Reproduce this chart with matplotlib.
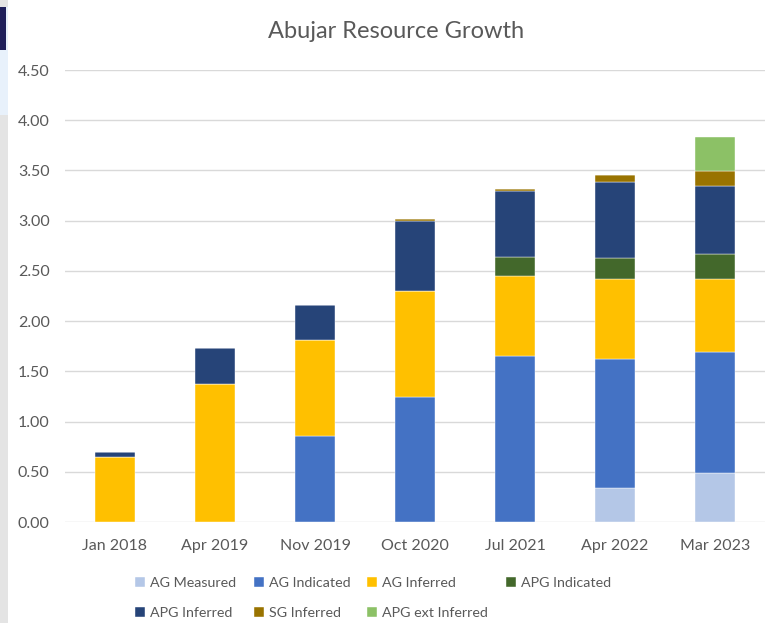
import numpy as np
import matplotlib
matplotlib.use('Agg')
import matplotlib.pyplot as plt
from matplotlib.patches import Rectangle

plt.rcParams['font.family'] = ['Lato', 'DejaVu Sans']

dates = ['Jan 2018', 'Apr 2019', 'Nov 2019', 'Oct 2020', 'Jul 2021', 'Apr 2022', 'Mar 2023']

ag_measured = [0.00, 0.00, 0.00, 0.00, 0.00, 0.34, 0.49]
ag_indicated = [0.00, 0.00, 0.86, 1.24, 1.65, 1.28, 1.20]
ag_inferred = [0.65, 1.37, 0.95, 1.06, 0.80, 0.80, 0.73]
apg_indicated = [0.00, 0.00, 0.00, 0.00, 0.19, 0.21, 0.25]
apg_inferred = [0.05, 0.36, 0.35, 0.70, 0.66, 0.75, 0.68]
sg_inferred = [0.00, 0.00, 0.00, 0.02, 0.02, 0.07, 0.14]
apg_ext_inferred = [0.00, 0.00, 0.00, 0.00, 0.00, 0.00, 0.34]

series = [
    ('AG Measured', ag_measured, '#B4C7E7'),
    ('AG Indicated', ag_indicated, '#4472C4'),
    ('AG Inferred', ag_inferred, '#FFC000'),
    ('APG Indicated', apg_indicated, '#43682B'),
    ('APG Inferred', apg_inferred, '#264478'),
    ('SG Inferred', sg_inferred, '#997300'),
    ('APG ext Inferred', apg_ext_inferred, '#8CC166'),
]

fig = plt.figure(figsize=(7.65, 6.23), dpi=100)
ax = fig.add_axes([65/765, 1 - 522/623, 700/765, 452/623])

x = np.arange(len(dates))
bottom = np.zeros(len(dates))
for name, vals, col in series:
    vals = np.array(vals)
    ax.bar(x, vals, 0.4, bottom=bottom, color=col, label=name,
           edgecolor='white', linewidth=0.3, zorder=3)
    bottom += vals

ax.set_xlim(-0.5, 6.5)
ax.set_ylim(0, 4.5)
ax.set_yticks(np.arange(0, 4.51, 0.5))
ax.set_yticklabels([f'{v:.2f}' for v in np.arange(0, 4.51, 0.5)])
ax.set_xticks(x)
ax.set_xticklabels(dates)
ax.tick_params(axis='both', length=0, labelsize=11.5, colors='#595959')
ax.tick_params(axis='x', pad=12)
ax.tick_params(axis='y', pad=11)
ax.grid(axis='y', color='#D9D9D9', linewidth=1, zorder=0)
for s in ax.spines.values():
    s.set_visible(False)

fig.text(0.518, 1 - 32/623, 'Abujar Resource Growth', ha='center', va='center',
         fontsize=17, color='#595959')

# legend is filled column by column, reorder so it reads row by row
handles, labels = ax.get_legend_handles_labels()
order = [0, 4, 1, 5, 2, 6, 3]
leg = fig.legend([handles[i] for i in order], [labels[i] for i in order], ncol=4,
                 loc='center', bbox_to_anchor=(373/765, 1 - 598/623),
                 frameon=False, fontsize=10.3, handlelength=0.7, handleheight=0.7,
                 handletextpad=0.35, columnspacing=1.2, labelspacing=1.2)
for t in leg.get_texts():
    t.set_color('#595959')

# screenshot edge on the left
fig.patches.append(Rectangle((0, 0), 8/765, 1, transform=fig.transFigure,
                             facecolor='#E4E4E4', edgecolor='none'))
fig.patches.append(Rectangle((0, 1 - 115/623), 8/765, 108/623, transform=fig.transFigure,
                             facecolor='#E8F1FB', edgecolor='none'))
fig.patches.append(Rectangle((0, 1 - 50/623), 6/765, 43/623, transform=fig.transFigure,
                             facecolor='#1F1F5A', edgecolor='none'))

fig.savefig('out.png', dpi=100)
